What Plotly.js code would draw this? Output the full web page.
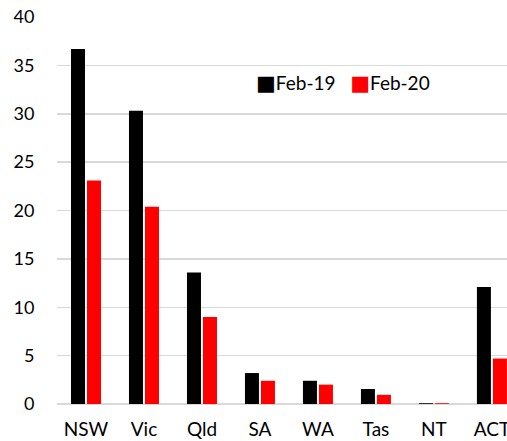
<!DOCTYPE html>
<html>
<head>
<meta charset="utf-8">
<script src="https://cdn.plot.ly/plotly-3.0.1.min.js"></script>
<style>html,body{margin:0;padding:0;background:#fff;}#chart{width:507px;height:441px;}</style>
</head>
<body>
<div id="chart"></div>
<script>
const categories = ["NSW", "Vic", "Qld", "SA", "WA", "Tas", "NT", "ACT"];
const feb19 = [36.7, 30.3, 13.6, 3.2, 2.4, 1.55, 0.08, 12.1];
const feb20 = [23.1, 20.4, 9.0, 2.4, 2.0, 0.95, 0.08, 4.7];
const seriesNames = ["Feb-19", "Feb-20"];
const seriesColors = ["#000000", "#ff0000"];
const yTicks = [0, 5, 10, 15, 20, 25, 30, 35, 40];

const font = "Lato, 'Open Sans', sans-serif";
const data = [
  {type: "bar", name: seriesNames[0], x: categories, y: feb19, marker: {color: seriesColors[0]}},
  {type: "bar", name: seriesNames[1], x: categories, y: feb20, marker: {color: seriesColors[1]}}
];
const legendText = seriesNames.map((n, i) =>
  `<span style="color:${seriesColors[i]};font-family:'DejaVu Sans';font-size:21px">■</span>${n}`
).join("&nbsp;&nbsp;&nbsp;");
const layout = {
  width: 507, height: 441,
  margin: {l: 57, r: 0, t: 17, b: 37, pad: 0},
  paper_bgcolor: "#fff", plot_bgcolor: "#fff",
  barmode: "group", bargap: 0.448, bargroupgap: 0.125,
  showlegend: false,
  annotations: [{
    xref: "paper", yref: "paper", x: 0.437, y: 0.829, xanchor: "left", yanchor: "middle",
    text: legendText, showarrow: false,
    font: {family: font, size: 19, color: "#000"}
  }],
  xaxis: {type: "category", range: [-0.5, 7.26], showgrid: false, zeroline: false,
          showline: false, ticks: "", ticklabelstandoff: 12,
          tickfont: {family: font, size: 19, color: "#000"}, fixedrange: true},
  yaxis: {range: [0, 40], tickvals: yTicks, ticktext: yTicks.map(String),
          showgrid: true, gridcolor: "#d9d9d9", gridwidth: 1.5,
          zeroline: true, zerolinecolor: "#d9d9d9", zerolinewidth: 1.5,
          showline: false, ticks: "outside", ticklen: 18, tickcolor: "rgba(0,0,0,0)",
          tickfont: {family: font, size: 18, color: "#000"}, fixedrange: true, automargin: false}
};
Plotly.newPlot("chart", data, layout, {displayModeBar: false, staticPlot: true});
</script>
</body>
</html>
